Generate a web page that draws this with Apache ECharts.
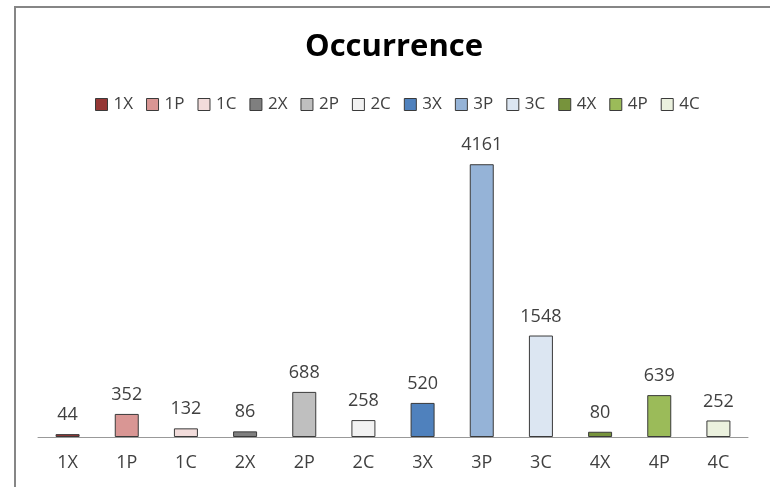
<!DOCTYPE html>
<html>
<head>
<meta charset="utf-8">
<script src="https://cdn.jsdelivr.net/npm/echarts@6/dist/echarts.min.js"></script>
<style>
html, body { margin: 0; padding: 0; background: #fff; }
#chart { width: 770px; height: 487px; }
</style>
</head>
<body>
<div id="chart"></div>
<script>
// 数据
const categories = ['1X', '1P', '1C', '2X', '2P', '2C', '3X', '3P', '3C', '4X', '4P', '4C'];
const values = [44, 352, 132, 86, 688, 258, 520, 4161, 1548, 80, 639, 252];
const colors = ['#953735', '#d99694', '#f2dcdb', '#7f7f7f', '#bfbfbf', '#f2f2f2',
	'#4f81bd', '#95b3d7', '#dce6f2', '#77933c', '#9bbb59', '#ebf1de'];

const myChart = echarts.init(document.getElementById('chart'));

// 每个类别一个系列，这样图例才能逐个显示
const series = categories.map(function (name, i) {
	return {
		name: name,
		type: 'bar',
		stack: 'all',
		barWidth: 24,
		data: categories.map(function (c, j) { return j === i ? values[i] : null; }),
		itemStyle: {
			color: colors[i],
			borderColor: '#3a3a3a',
			borderWidth: 1
		},
		label: {
			show: true,
			position: 'top',
			distance: 10,
			fontFamily: 'Open Sans',
			fontSize: 18,
			color: '#404040'
		}
	};
});

option = {
	backgroundColor: '#fff',
	animation: false,
	title: {
		text: 'Occurrence',
		left: 389,
		top: 27,
		textAlign: 'center',
		textStyle: {
			fontFamily: 'Open Sans',
			fontWeight: 'bold',
			fontSize: 31,
			color: '#000'
		}
	},
	legend: {
		data: categories,
		left: 90,
		top: 91,
		icon: 'rect',
		itemWidth: 12,
		itemHeight: 12,
		itemGap: 13,
		itemStyle: {
			borderColor: '#3a3a3a',
			borderWidth: 1
		},
		textStyle: {
			fontFamily: 'Open Sans',
			fontSize: 17,
			color: '#404040',
			padding: [0, 0, 0, 1]
		}
	},
	graphic: [{
		type: 'rect',
		shape: { x: 15, y: 7, width: 800, height: 600 },
		style: { fill: 'none', stroke: '#868686', lineWidth: 2 },
		silent: true
	}],
	grid: {
		left: 38,
		right: 22,
		top: 142,
		bottom: 50
	},
	xAxis: {
		type: 'category',
		data: categories,
		axisTick: { show: false },
		axisLine: { lineStyle: { color: '#999', width: 1 } },
		axisLabel: {
			margin: 17,
			fontFamily: 'Open Sans',
			fontSize: 18,
			color: '#404040'
		}
	},
	yAxis: {
		type: 'value',
		min: 0,
		max: 4500,
		show: false,
		splitLine: { show: false }
	},
	series: series
};

myChart.setOption(option);
</script>
</body>
</html>
